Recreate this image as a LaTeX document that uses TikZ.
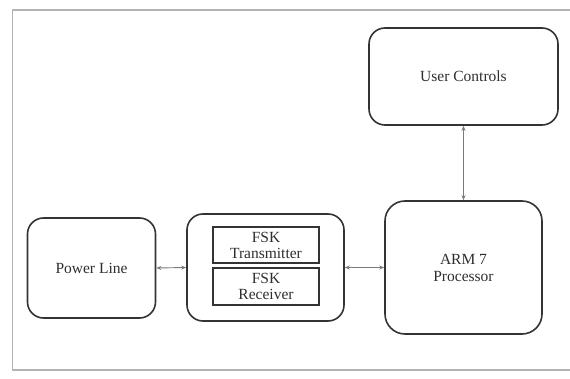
\documentclass[tikz,border=0pt]{standalone}
\usepackage{fontspec}
\setmainfont{Liberation Serif}
\usetikzlibrary{arrows.meta}
\definecolor{boxline}{HTML}{333333}
\definecolor{frameline}{HTML}{B4B4B4}
\definecolor{arrline}{HTML}{7A7A7A}
\definecolor{txt}{HTML}{2E2E2E}
\tikzset{
  blockbox/.style={draw=boxline, line width=1.6pt, rounded corners=16pt, fill=white,
    align=center, text=txt, font=\fontsize{15.5}{17}\selectfont, inner sep=0pt},
  innerbox/.style={draw=boxline, line width=2pt, fill=white, align=center, text=txt,
    font=\fontsize{15.5}{16}\selectfont, inner sep=0pt},
  link/.style={draw=arrline, line width=0.9pt, {Stealth[length=5pt,width=4pt]}-{Stealth[length=5pt,width=4pt]}}
}
\begin{document}
\begin{tikzpicture}[x=1pt,y=-1pt]
\useasboundingbox (0,0) rectangle (570,379);
\fill[white] (0,0) rectangle (570,379);
\draw[frameline, line width=1.6pt] (575,10) -- (12.5,10) -- (12.5,370) -- (575,370);
\node[blockbox, minimum width=128pt, minimum height=100pt] (power) at (91.5,268) {Power Line};
\node[blockbox, minimum width=157pt, minimum height=107pt] (fsk) at (265.5,267.5) {};
\node[innerbox, minimum width=106pt, minimum height=36pt] (tx) at (266,245) {FSK\\Transmitter};
\node[innerbox, minimum width=106pt, minimum height=37pt] (rx) at (266,286.5) {FSK\\Receiver};
\node[blockbox, rounded corners=20pt, minimum width=157pt, minimum height=133pt] (arm) at (463.5,267.5) {ARM 7\\Processor};
\node[blockbox, minimum width=189pt, minimum height=97pt] (user) at (463.5,76.5) {User Controls};
\draw[link] (power.east) -- (fsk.west);
\draw[link] (fsk.east) -- (arm.west);
\draw[link] (arm.north) -- (user.south);
\end{tikzpicture}
\end{document}
